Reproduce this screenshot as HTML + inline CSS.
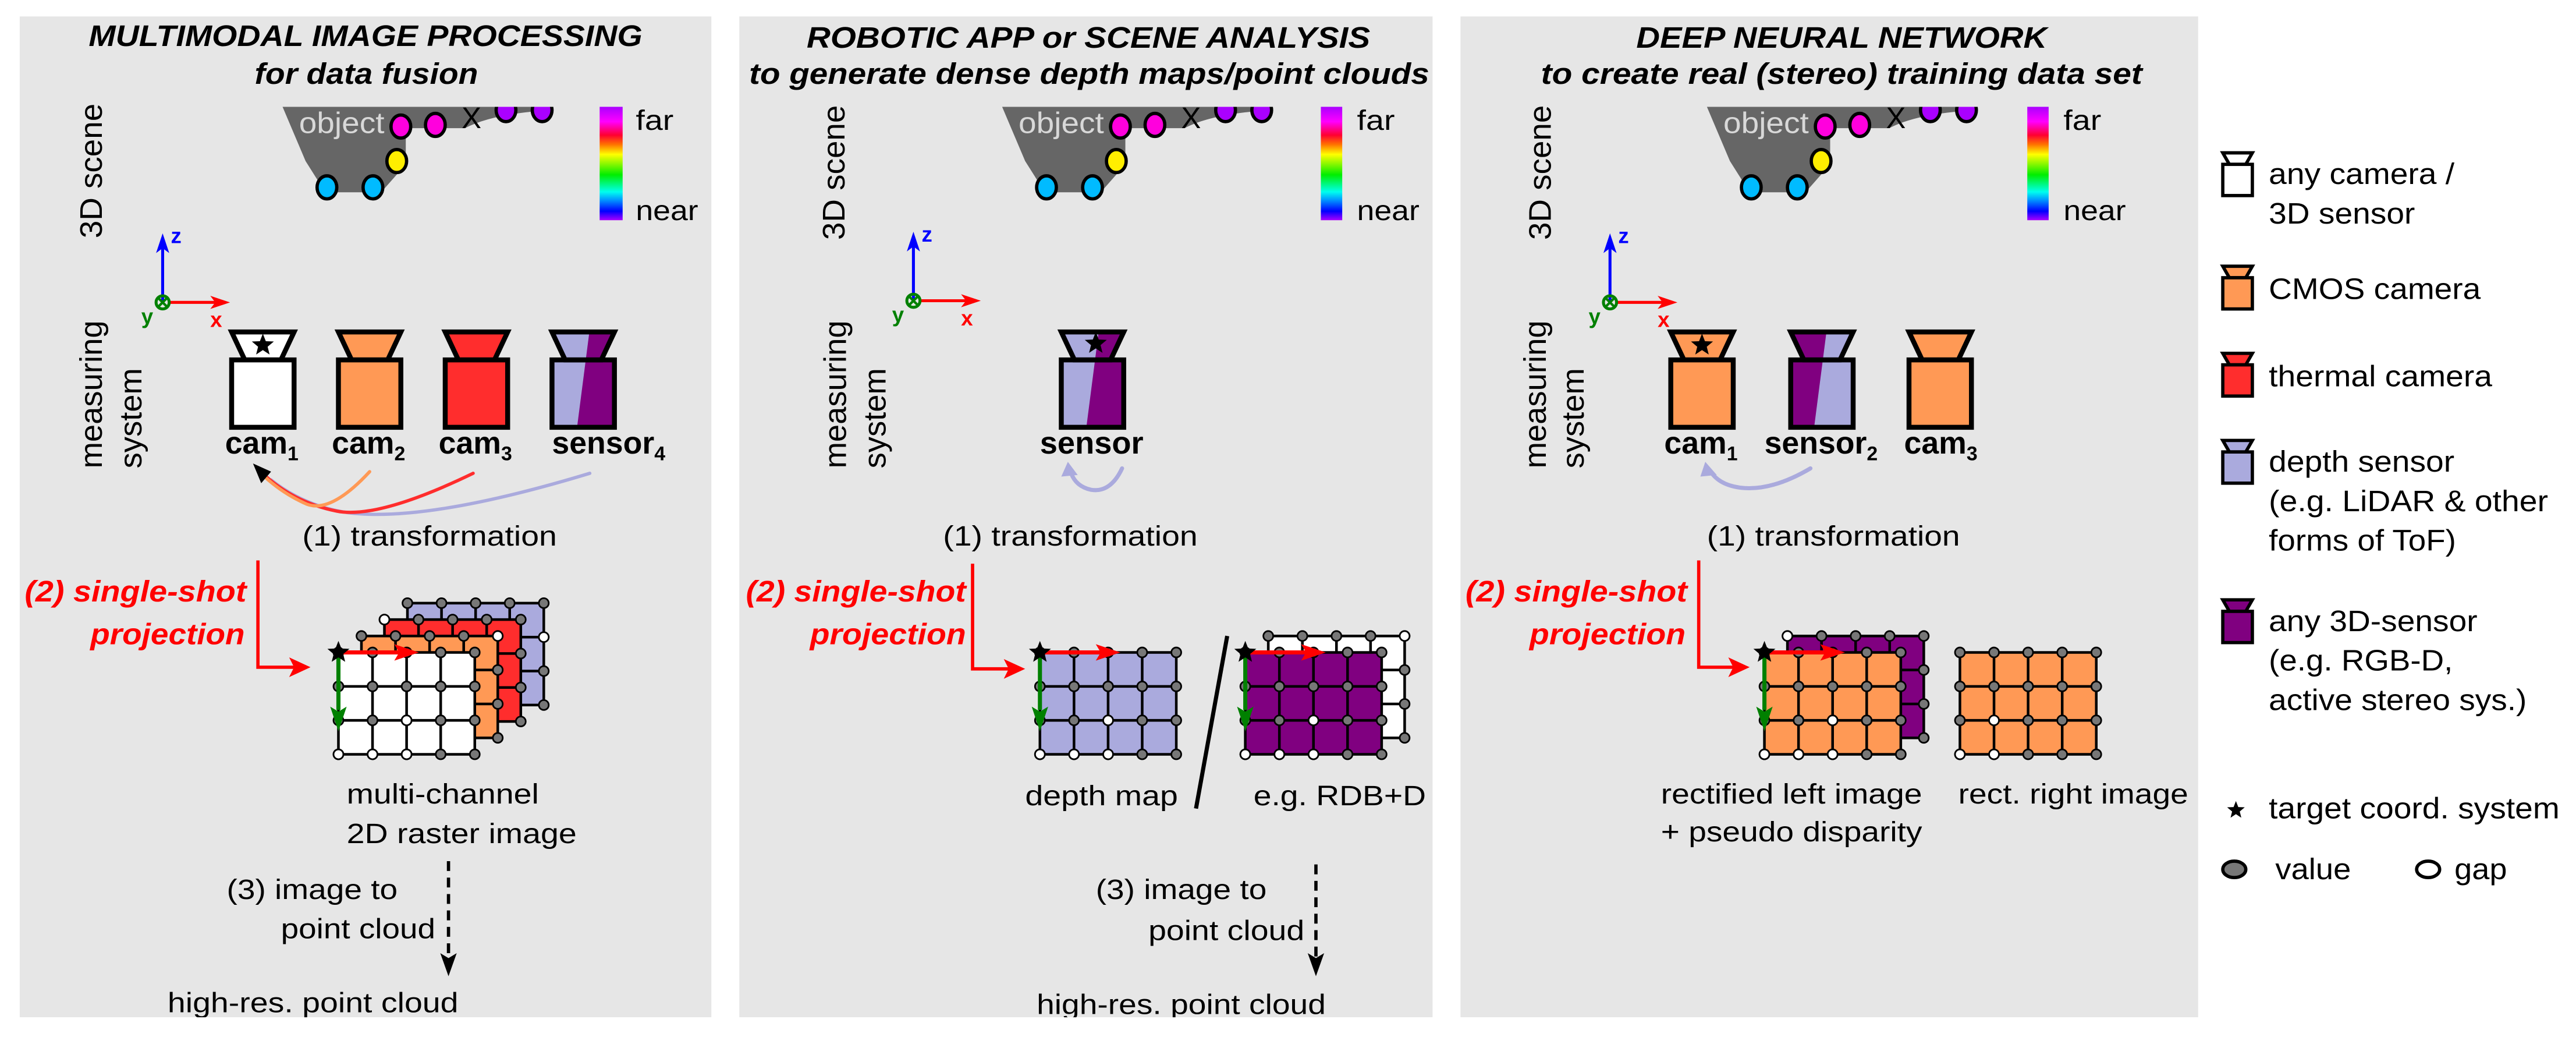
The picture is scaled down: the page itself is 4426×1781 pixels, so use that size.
<!DOCTYPE html>
<html><head><meta charset="utf-8"><style>
html,body{margin:0;padding:0;background:#fff}
svg{display:block}
text{font-family:"Liberation Sans",sans-serif;fill:#000}
.t{font-size:17px}
.b{font-weight:bold}
.ti{font-weight:bold;font-style:italic;font-size:18px}
.rd{fill:#ff0000;font-weight:bold;font-style:italic;font-size:18px}
.lg{font-size:18px}
</style></head><body>
<svg width="4426" height="1781" viewBox="0 0 1568 631" preserveAspectRatio="none" xmlns="http://www.w3.org/2000/svg">
<defs>
<linearGradient id="cb" x1="0" y1="0" x2="0" y2="1">
<stop offset="0" stop-color="#aa00ff"/><stop offset="0.13" stop-color="#ff00ff"/><stop offset="0.25" stop-color="#ff0030"/><stop offset="0.33" stop-color="#ff7000"/><stop offset="0.42" stop-color="#ffff00"/><stop offset="0.6" stop-color="#00ee00"/><stop offset="0.75" stop-color="#00ffee"/><stop offset="0.82" stop-color="#0099ff"/><stop offset="0.92" stop-color="#0000ff"/><stop offset="1" stop-color="#aa00ff"/>
</linearGradient>
<clipPath id="camclip" clipPathUnits="userSpaceOnUse"><polygon points="-19,202 19,202 11,219 -11,219"/><rect x="-19" y="218" width="38" height="42"/></clipPath>
<clipPath id="topclip" clipPathUnits="userSpaceOnUse"><rect x="0" y="65" width="1568" height="100"/></clipPath>
<g id="gl" fill="none" stroke="#000" stroke-width="1.6">
<rect x="0" y="0" width="83" height="62"/>
<path d="M20.75,0V62M41.5,0V62M62.25,0V62M0,20.67H83M0,41.33H83"/>
</g>
<g id="dots" fill="#777" stroke="#000" stroke-width="1">
<circle cx="0" cy="0" r="3"/><circle cx="20.75" cy="0" r="3"/><circle cx="41.5" cy="0" r="3"/><circle cx="62.25" cy="0" r="3"/><circle cx="83" cy="0" r="3"/>
<circle cx="0" cy="20.67" r="3"/><circle cx="20.75" cy="20.67" r="3"/><circle cx="41.5" cy="20.67" r="3"/><circle cx="62.25" cy="20.67" r="3"/><circle cx="83" cy="20.67" r="3"/>
<circle cx="0" cy="41.33" r="3"/><circle cx="20.75" cy="41.33" r="3"/><circle cx="41.5" cy="41.33" r="3"/><circle cx="62.25" cy="41.33" r="3"/><circle cx="83" cy="41.33" r="3"/>
<circle cx="0" cy="62" r="3"/><circle cx="20.75" cy="62" r="3"/><circle cx="41.5" cy="62" r="3"/><circle cx="62.25" cy="62" r="3"/><circle cx="83" cy="62" r="3"/>
</g>
<polygon id="star" points="0,-7 1.8,-2.4 6.7,-2.2 2.9,1 4.1,5.7 0,3 -4.1,5.7 -2.9,1 -6.7,-2.2 -1.8,-2.4" fill="#000"/>
<g id="scene">
<g clip-path="url(#topclip)">
<path d="M172,65 L336,65 L336,67 Q300,69 283,78 L247,78 L247,100 L232,117 L198,117 L186,98 Z" fill="#666"/>
<g stroke="#000" stroke-width="2">
<ellipse cx="244" cy="77" rx="6" ry="7" fill="#ff00dd"/>
<ellipse cx="265" cy="76" rx="6" ry="7" fill="#ff00dd"/>
<ellipse cx="308" cy="67" rx="6" ry="7" fill="#aa00ff"/>
<ellipse cx="330" cy="67" rx="6" ry="7" fill="#aa00ff"/>
<ellipse cx="241.5" cy="98" rx="6" ry="7" fill="#ffee00"/>
<ellipse cx="199" cy="114" rx="6" ry="7" fill="#00bbff"/>
<ellipse cx="227" cy="114" rx="6" ry="7" fill="#00bbff"/>
</g>
</g>
</g>
<g id="axes">
<line x1="0" y1="0" x2="0" y2="-34" stroke="#0000ff" stroke-width="1.8"/>
<polygon points="-4,-30 0,-42 4,-30 0,-33" fill="#0000ff"/>
<line x1="4" y1="0" x2="32" y2="0" stroke="#ff0000" stroke-width="1.8"/>
<polygon points="29,-4 41,0 29,4 32,0" fill="#ff0000"/>
<circle cx="0" cy="0" r="4" fill="none" stroke="#008000" stroke-width="1.8"/>
<path d="M-2.5,-2.5L2.5,2.5M2.5,-2.5L-2.5,2.5" stroke="#008000" stroke-width="1.5"/>
</g>
</defs>

<rect width="1568" height="631" fill="#fff"/>
<rect x="12" y="10" width="421" height="609" fill="#e6e6e6"/>
<rect x="450" y="10" width="422" height="609" fill="#e6e6e6"/>
<rect x="889" y="10" width="449" height="609" fill="#e6e6e6"/>

<!-- titles -->
<text class="ti" x="54" y="28" textLength="337" lengthAdjust="spacingAndGlyphs">MULTIMODAL IMAGE PROCESSING</text>
<text class="ti" x="155" y="51" textLength="136" lengthAdjust="spacingAndGlyphs">for data fusion</text>
<text class="ti" x="491" y="29" textLength="343" lengthAdjust="spacingAndGlyphs">ROBOTIC APP or SCENE ANALYSIS</text>
<text class="ti" x="456" y="51" textLength="414" lengthAdjust="spacingAndGlyphs">to generate dense depth maps/point clouds</text>
<text class="ti" x="996" y="29" textLength="250" lengthAdjust="spacingAndGlyphs">DEEP NEURAL NETWORK</text>
<text class="ti" x="938" y="51" textLength="366" lengthAdjust="spacingAndGlyphs">to create real (stereo) training data set</text>

<!-- scenes -->
<use href="#scene"/>
<use href="#scene" transform="translate(438,0)"/>
<use href="#scene" transform="translate(867,0)"/>
<g style="font-size:18px;fill:#d4d4d4">
<text x="182" y="81" textLength="52" lengthAdjust="spacingAndGlyphs" style="fill:#d8d8d8">object</text>
<text x="620" y="81" textLength="52" lengthAdjust="spacingAndGlyphs" style="fill:#d8d8d8">object</text>
<text x="1049" y="81" textLength="52" lengthAdjust="spacingAndGlyphs" style="fill:#d8d8d8">object</text>
</g>
<text x="281" y="78" style="font-size:18px">X</text>
<text x="719" y="78" style="font-size:18px">X</text>
<text x="1148" y="78" style="font-size:18px">X</text>
<rect x="365" y="65" width="14" height="69" fill="url(#cb)"/>
<rect x="804" y="65" width="13" height="69" fill="url(#cb)"/>
<rect x="1234" y="65" width="13" height="69" fill="url(#cb)"/>
<text class="t" x="387" y="79" textLength="23" lengthAdjust="spacingAndGlyphs">far</text>
<text class="t" x="387" y="134" textLength="38" lengthAdjust="spacingAndGlyphs">near</text>
<text class="t" x="826" y="79" textLength="23" lengthAdjust="spacingAndGlyphs">far</text>
<text class="t" x="826" y="134" textLength="38" lengthAdjust="spacingAndGlyphs">near</text>
<text class="t" x="1256" y="79" textLength="23" lengthAdjust="spacingAndGlyphs">far</text>
<text class="t" x="1256" y="134" textLength="38" lengthAdjust="spacingAndGlyphs">near</text>

<!-- rotated labels -->
<text class="t" style="font-size:19px" transform="translate(62,145) rotate(-90)" textLength="82" lengthAdjust="spacingAndGlyphs">3D scene</text>
<text class="t" style="font-size:19px" transform="translate(514,146) rotate(-90)" textLength="82" lengthAdjust="spacingAndGlyphs">3D scene</text>
<text class="t" style="font-size:19px" transform="translate(944,146) rotate(-90)" textLength="82" lengthAdjust="spacingAndGlyphs">3D scene</text>
<text class="t" style="font-size:19px" transform="translate(62,285) rotate(-90)" textLength="90" lengthAdjust="spacingAndGlyphs">measuring</text>
<text class="t" style="font-size:19px" transform="translate(86,285) rotate(-90)" textLength="61" lengthAdjust="spacingAndGlyphs">system</text>
<text class="t" style="font-size:19px" transform="translate(515,285) rotate(-90)" textLength="90" lengthAdjust="spacingAndGlyphs">measuring</text>
<text class="t" style="font-size:19px" transform="translate(539,285) rotate(-90)" textLength="61" lengthAdjust="spacingAndGlyphs">system</text>
<text class="t" style="font-size:19px" transform="translate(941,285) rotate(-90)" textLength="90" lengthAdjust="spacingAndGlyphs">measuring</text>
<text class="t" style="font-size:19px" transform="translate(964,285) rotate(-90)" textLength="61" lengthAdjust="spacingAndGlyphs">system</text>

<!-- axes -->
<use href="#axes" transform="translate(99,184)"/>
<use href="#axes" transform="translate(556,183)"/>
<use href="#axes" transform="translate(980,184)"/>
<g style="font-size:13px;font-weight:bold">
<text x="104" y="148" style="fill:#0000ff">z</text><text x="128" y="199" style="fill:#ff0000">x</text><text x="86" y="197" style="fill:#008000">y</text>
<text x="561" y="147" style="fill:#0000ff">z</text><text x="585" y="198" style="fill:#ff0000">x</text><text x="543" y="196" style="fill:#008000">y</text>
<text x="985" y="148" style="fill:#0000ff">z</text><text x="1009" y="199" style="fill:#ff0000">x</text><text x="967" y="197" style="fill:#008000">y</text>
</g>

<!-- cameras P1 -->
<g stroke="#000" stroke-width="3" stroke-linejoin="miter">
<g transform="translate(160,0)"><polygon points="-19,202 19,202 11,219 -11,219" fill="#fff"/><rect x="-19" y="219" width="38" height="41" fill="#fff"/></g>
<g transform="translate(225,0)"><polygon points="-19,202 19,202 11,219 -11,219" fill="#ff9955"/><rect x="-19" y="219" width="38" height="41" fill="#ff9955"/></g>
<g transform="translate(290,0)"><polygon points="-19,202 19,202 11,219 -11,219" fill="#ff2d2d"/><rect x="-19" y="219" width="38" height="41" fill="#ff2d2d"/></g>
<g transform="translate(355,0)"><g clip-path="url(#camclip)" stroke="none"><rect x="-20" y="200" width="40" height="62" fill="#aaaadd"/><polygon points="4,200 25,200 25,262 -4,262" fill="#800080"/></g><polygon points="-19,202 19,202 11,219 -11,219" fill="none"/><rect x="-19" y="219" width="38" height="41" fill="none"/></g>
<!-- P2 -->
<g transform="translate(665,0)"><g clip-path="url(#camclip)" stroke="none"><rect x="-20" y="200" width="40" height="62" fill="#aaaadd"/><polygon points="4,200 25,200 25,262 -4,262" fill="#800080"/></g><polygon points="-19,202 19,202 11,219 -11,219" fill="none"/><rect x="-19" y="219" width="38" height="41" fill="none"/></g>
<!-- P3 -->
<g transform="translate(1036,0)"><polygon points="-19,202 19,202 11,219 -11,219" fill="#ff9955"/><rect x="-19" y="219" width="38" height="41" fill="#ff9955"/></g>
<g transform="translate(1109,0)"><g clip-path="url(#camclip)" stroke="none"><rect x="-20" y="200" width="40" height="62" fill="#aaaadd"/><polygon points="-25,200 3,200 -5,262 -25,262" fill="#800080"/></g><polygon points="-19,202 19,202 11,219 -11,219" fill="none"/><rect x="-19" y="219" width="38" height="41" fill="none"/></g>
<g transform="translate(1181,0)"><polygon points="-19,202 19,202 11,219 -11,219" fill="#ff9955"/><rect x="-19" y="219" width="38" height="41" fill="#ff9955"/></g>
</g>
<use href="#star" transform="translate(160,210)"/>
<use href="#star" transform="translate(667,209)"/>
<use href="#star" transform="translate(1036,210)"/>

<!-- camera labels -->
<g style="font-size:19px;font-weight:bold">
<text x="137" y="276">cam<tspan style="font-size:12px" dy="4">1</tspan></text>
<text x="202" y="276">cam<tspan style="font-size:12px" dy="4">2</tspan></text>
<text x="267" y="276">cam<tspan style="font-size:12px" dy="4">3</tspan></text>
<text x="336" y="276">sensor<tspan style="font-size:12px" dy="4">4</tspan></text>
<text x="633" y="276" textLength="63" lengthAdjust="spacingAndGlyphs">sensor</text>
<text x="1013" y="276">cam<tspan style="font-size:12px" dy="4">1</tspan></text>
<text x="1074" y="276">sensor<tspan style="font-size:12px" dy="4">2</tspan></text>
<text x="1159" y="276">cam<tspan style="font-size:12px" dy="4">3</tspan></text>
</g>

<!-- transformation curves -->
<g fill="none" stroke-width="2" stroke-linecap="round">
<path d="M359,288 Q260,318 212,312 Q185,308 165,292" stroke="#aaaadd"/>
<path d="M288,288 Q230,316 205,311 Q180,306 162,290" stroke="#ff2d2d"/>
<path d="M225,287 Q200,314 185,306 Q172,300 161,290" stroke="#ff9955"/>
<path d="M683,285 Q676,300 664,298 Q655,296 652,288" stroke="#aaaadd" stroke-width="2.5"/>
<path d="M1102,285 Q1080,298 1062,297 Q1048,296 1042,288" stroke="#aaaadd" stroke-width="2.5"/>
</g>
<polygon points="154,282 165,287 159,294" fill="#000"/>
<polygon points="650,281 656,289 646,290" fill="#aaaadd"/>
<polygon points="1038,281 1045,289 1035,290" fill="#aaaadd"/>

<text class="t" x="184" y="332" textLength="155" lengthAdjust="spacingAndGlyphs">(1) transformation</text>
<text class="t" x="574" y="332" textLength="155" lengthAdjust="spacingAndGlyphs">(1) transformation</text>
<text class="t" x="1039" y="332" textLength="154" lengthAdjust="spacingAndGlyphs">(1) transformation</text>

<!-- red projection arrows -->
<g fill="none" stroke="#ff0000" stroke-width="2"><path d="M157,341 V406 H180"/><path d="M592,343 V407 H615"/><path d="M1034,341 V406 H1056"/></g>
<g fill="#ff0000"><polygon points="176,400 189,406 176,412 179,406"/><polygon points="611,401 624,407 611,413 614,407"/><polygon points="1052,400 1065,406 1052,412 1055,406"/></g>
<text class="rd" x="15" y="366" textLength="135" lengthAdjust="spacingAndGlyphs">(2) single-shot</text>
<text class="rd" x="55" y="392" textLength="94" lengthAdjust="spacingAndGlyphs">projection</text>
<text class="rd" x="454" y="366" textLength="134" lengthAdjust="spacingAndGlyphs">(2) single-shot</text>
<text class="rd" x="493" y="392" textLength="95" lengthAdjust="spacingAndGlyphs">projection</text>
<text class="rd" x="892" y="366" textLength="135" lengthAdjust="spacingAndGlyphs">(2) single-shot</text>
<text class="rd" x="931" y="392" textLength="95" lengthAdjust="spacingAndGlyphs">projection</text>

<!-- P1 grid stack -->
<g transform="translate(248,367)"><rect width="83" height="62" fill="#aaaadd"/><use href="#gl"/><use href="#dots"/><circle cx="83" cy="20.67" r="3" fill="#fff" stroke="#000"/></g>
<g transform="translate(234,377)"><rect width="83" height="62" fill="#ff2d2d"/><use href="#gl"/><use href="#dots"/><circle cx="0" cy="0" r="3" fill="#fff" stroke="#000"/></g>
<g transform="translate(220,387)"><rect width="83" height="62" fill="#ff9955"/><use href="#gl"/><use href="#dots"/><circle cx="83" cy="0" r="3" fill="#fff" stroke="#000"/></g>
<g transform="translate(206,397)"><rect width="83" height="62" fill="#fff"/><use href="#gl"/><use href="#dots"/><g fill="#fff" stroke="#000"><circle cx="41.5" cy="41.33" r="3"/><circle cx="0" cy="62" r="3"/><circle cx="20.75" cy="62" r="3"/><circle cx="41.5" cy="62" r="3"/></g></g>

<!-- P2 grids -->
<g transform="translate(633,397)"><rect width="83" height="62" fill="#aaaadd"/><use href="#gl"/><use href="#dots"/><g fill="#fff" stroke="#000"><circle cx="41.5" cy="41.33" r="3"/><circle cx="0" cy="62" r="3"/><circle cx="20.75" cy="62" r="3"/><circle cx="41.5" cy="62" r="3"/></g></g>
<g transform="translate(772,387)"><rect width="83" height="62" fill="#fff"/><use href="#gl"/><use href="#dots"/><circle cx="83" cy="0" r="3" fill="#fff" stroke="#000"/></g>
<g transform="translate(758,397)"><rect width="83" height="62" fill="#800080"/><use href="#gl"/><use href="#dots"/><g fill="#fff" stroke="#000"><circle cx="41.5" cy="41.33" r="3"/><circle cx="0" cy="62" r="3"/><circle cx="20.75" cy="62" r="3"/><circle cx="41.5" cy="62" r="3"/></g></g>
<line x1="747" y1="387" x2="728" y2="492" stroke="#000" stroke-width="2.5"/>

<!-- P3 grids -->
<g transform="translate(1088,387)"><rect width="83" height="62" fill="#800080"/><use href="#gl"/><use href="#dots"/><circle cx="0" cy="0" r="3" fill="#fff" stroke="#000"/></g>
<g transform="translate(1074,397)"><rect width="83" height="62" fill="#ff9955"/><use href="#gl"/><use href="#dots"/><g fill="#fff" stroke="#000"><circle cx="41.5" cy="41.33" r="3"/><circle cx="0" cy="62" r="3"/><circle cx="20.75" cy="62" r="3"/><circle cx="41.5" cy="62" r="3"/></g></g>
<g transform="translate(1193,397)"><rect width="83" height="62" fill="#ff9955"/><use href="#gl"/><use href="#dots"/><g fill="#fff" stroke="#000"><circle cx="20.75" cy="41.33" r="3"/><circle cx="0" cy="62" r="3"/><circle cx="20.75" cy="62" r="3"/></g></g>

<!-- grid coordinate arrows -->
<g id="ga1">
<line x1="206" y1="397" x2="243" y2="397" stroke="#ff0000" stroke-width="2.5"/><polygon points="240,392 255,397 240,402 243,397" fill="#ff0000"/>
<line x1="206" y1="397" x2="206" y2="432" stroke="#008000" stroke-width="2.5"/><polygon points="201,430 206,445 211,430 206,433" fill="#008000"/>
<use href="#star" transform="translate(206,397)"/>
</g>
<use href="#ga1" transform="translate(427,0)"/>
<use href="#ga1" transform="translate(552,0)"/>
<use href="#ga1" transform="translate(868,0)"/>

<!-- P1 lower text -->
<text class="t" x="211" y="489" textLength="117" lengthAdjust="spacingAndGlyphs">multi-channel</text>
<text class="t" x="211" y="513" textLength="140" lengthAdjust="spacingAndGlyphs">2D raster image</text>
<line x1="273" y1="524" x2="273" y2="582" stroke="#000" stroke-width="2" stroke-dasharray="6,4"/>
<polygon points="268,580 273,594 278,580 273,583" fill="#000"/>
<text class="t" x="138" y="547" textLength="104" lengthAdjust="spacingAndGlyphs">(3) image to</text>
<text class="t" x="171" y="571" textLength="94" lengthAdjust="spacingAndGlyphs">point cloud</text>
<text class="t" x="102" y="616" textLength="177" lengthAdjust="spacingAndGlyphs">high-res. point cloud</text>

<!-- P2 lower text -->
<text class="t" x="624" y="490" textLength="93" lengthAdjust="spacingAndGlyphs">depth map</text>
<text class="t" x="763" y="490" textLength="105" lengthAdjust="spacingAndGlyphs">e.g. RDB+D</text>
<line x1="801" y1="526" x2="801" y2="582" stroke="#000" stroke-width="2" stroke-dasharray="6,4"/>
<polygon points="796,580 801,594 806,580 801,583" fill="#000"/>
<text class="t" x="667" y="547" textLength="104" lengthAdjust="spacingAndGlyphs">(3) image to</text>
<text class="t" x="699" y="572" textLength="95" lengthAdjust="spacingAndGlyphs">point cloud</text>
<text class="t" x="631" y="617" textLength="176" lengthAdjust="spacingAndGlyphs">high-res. point cloud</text>

<!-- P3 lower text -->
<text class="t" x="1011" y="489" textLength="159" lengthAdjust="spacingAndGlyphs">rectified left image</text>
<text class="t" x="1011" y="512" textLength="159" lengthAdjust="spacingAndGlyphs">+ pseudo disparity</text>
<text class="t" x="1192" y="489" textLength="140" lengthAdjust="spacingAndGlyphs">rect. right image</text>

<!-- bottom white strip -->
<rect x="0" y="619" width="1568" height="12" fill="#fff"/>

<!-- legend -->
<g stroke="#000" stroke-width="2">
<polygon points="1353,93 1371,93 1367,100 1357,100" fill="#fff"/><rect x="1353" y="100" width="18" height="19" fill="#fff"/>
<polygon points="1353,162 1371,162 1367,169 1357,169" fill="#ff9955"/><rect x="1353" y="169" width="18" height="19" fill="#ff9955"/>
<polygon points="1353,215 1371,215 1367,222 1357,222" fill="#ff2d2d"/><rect x="1353" y="222" width="18" height="19" fill="#ff2d2d"/>
<polygon points="1353,268 1371,268 1367,275 1357,275" fill="#aaaadd"/><rect x="1353" y="275" width="18" height="19" fill="#aaaadd"/>
<polygon points="1353,365 1371,365 1367,372 1357,372" fill="#800080"/><rect x="1353" y="372" width="18" height="19" fill="#800080"/>
<ellipse cx="1360" cy="529" rx="7" ry="5" fill="#777"/>
<ellipse cx="1478" cy="529" rx="7" ry="5" fill="#fff"/>
</g>
<use href="#star" transform="translate(1361,493) scale(0.8)"/>
<text class="lg" x="1381" y="112" textLength="113" lengthAdjust="spacingAndGlyphs">any camera /</text>
<text class="lg" x="1381" y="136" textLength="89" lengthAdjust="spacingAndGlyphs">3D sensor</text>
<text class="lg" x="1381" y="182" textLength="129" lengthAdjust="spacingAndGlyphs">CMOS camera</text>
<text class="lg" x="1381" y="235" textLength="136" lengthAdjust="spacingAndGlyphs">thermal camera</text>
<text class="lg" x="1381" y="287" textLength="113" lengthAdjust="spacingAndGlyphs">depth sensor</text>
<text class="lg" x="1381" y="311" textLength="170" lengthAdjust="spacingAndGlyphs">(e.g. LiDAR &amp; other</text>
<text class="lg" x="1381" y="335" textLength="114" lengthAdjust="spacingAndGlyphs">forms of ToF)</text>
<text class="lg" x="1381" y="384" textLength="127" lengthAdjust="spacingAndGlyphs">any 3D-sensor</text>
<text class="lg" x="1381" y="408" textLength="112" lengthAdjust="spacingAndGlyphs">(e.g. RGB-D,</text>
<text class="lg" x="1381" y="432" textLength="157" lengthAdjust="spacingAndGlyphs">active stereo sys.)</text>
<text class="lg" x="1381" y="498" textLength="177" lengthAdjust="spacingAndGlyphs">target coord. system</text>
<text class="lg" x="1385" y="535" textLength="46" lengthAdjust="spacingAndGlyphs">value</text>
<text class="lg" x="1494" y="535" textLength="32" lengthAdjust="spacingAndGlyphs">gap</text>
</svg>
</body></html>
